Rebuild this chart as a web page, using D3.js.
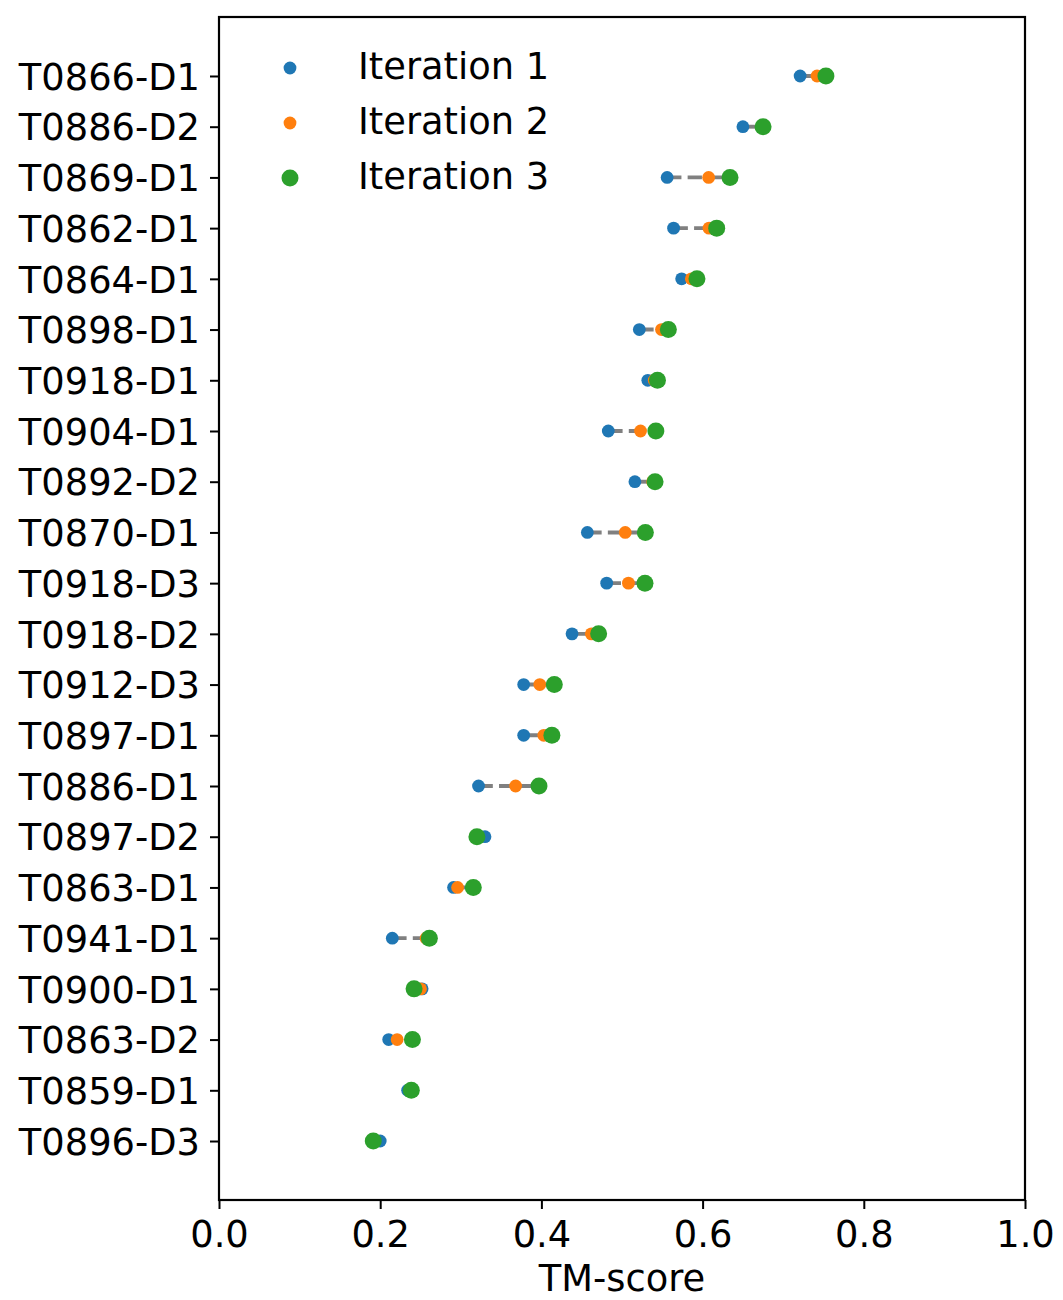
<!DOCTYPE html>
<html>
<head>
<meta charset="utf-8">
<script src="https://cdn.jsdelivr.net/npm/d3@7"></script>
<style>
  body { margin: 0; background: #fff; }
  svg { display: block; }
  text { font-family: "DejaVu Sans", sans-serif; fill: #000; }
</style>
</head>
<body>
<script>
const targets = ["T0866-D1","T0886-D2","T0869-D1","T0862-D1","T0864-D1","T0898-D1","T0918-D1","T0904-D1","T0892-D2","T0870-D1","T0918-D3","T0918-D2","T0912-D3","T0897-D1","T0886-D1","T0897-D2","T0863-D1","T0941-D1","T0900-D1","T0863-D2","T0859-D1","T0896-D3"];
const iteration1 = [0.721,0.650,0.556,0.564,0.574,0.5215,0.532,0.483,0.516,0.457,0.481,0.438,0.378,0.378,0.322,0.330,0.291,0.215,0.252,0.2105,0.234,0.200];
const iteration2 = [0.742,0.674,0.6075,0.608,0.586,0.549,0.540,0.523,0.538,0.504,0.508,0.462,0.398,0.403,0.368,0.318,0.296,0.257,0.250,0.221,0.237,0.193];
const iteration3 = [0.753,0.675,0.634,0.6175,0.593,0.5575,0.544,0.542,0.541,0.529,0.5285,0.471,0.416,0.413,0.397,0.320,0.3155,0.261,0.242,0.240,0.2386,0.1914];
const seriesNames = ["Iteration 1","Iteration 2","Iteration 3"];
const xTicks = [0.0,0.2,0.4,0.6,0.8,1.0];

(function () {
const W = 1063, H = 1300;
const pL = 219, pR = 1025, pT = 17, pB = 1200;
const FS = 36.8;
const colors = ["#1f77b4","#ff7f0e","#2ca02c"];
const radii = [6.4, 6.4, 8.5];

const svg = d3.select("body").append("svg").attr("width", W).attr("height", H);

const x = d3.scaleLinear().domain([0, 1]).range([pL, pR]);
const y = d3.scalePoint().domain(targets).range([pT, pB]).padding(1.163);

// dashed connector lines
const rows = targets.map((t, i) => ({t, v: [iteration1[i], iteration2[i], iteration3[i]]}));
const line = d3.line().x(d => x(d.v)).y(d => y(d.t));
svg.append("g").selectAll("path").data(rows).join("path")
  .attr("d", r => line(r.v.map(v => ({v, t: r.t}))))
  .attr("fill", "none").attr("stroke", "#808080")
  .attr("stroke-width", 3.9).attr("stroke-dasharray", "14.3,6.2");

// points
const series = [iteration1, iteration2, iteration3];
series.forEach((s, k) => {
  svg.append("g").selectAll("circle").data(s).join("circle")
    .attr("cx", d => x(d)).attr("cy", (d, i) => y(targets[i]))
    .attr("r", radii[k]).attr("fill", colors[k]);
});

// axes
const xAxis = svg.append("g").attr("transform", `translate(0,${pB})`)
  .call(d3.axisBottom(x).tickValues(xTicks).tickFormat(d3.format(".1f")).tickSize(9).tickPadding(9));
const yAxis = svg.append("g").attr("transform", `translate(${pL},0)`)
  .call(d3.axisLeft(y).tickSize(9).tickPadding(10));
[xAxis, yAxis].forEach(a => {
  a.select(".domain").remove();
  a.selectAll(".tick line").attr("stroke", "#000").attr("stroke-width", 2);
  a.selectAll(".tick text").attr("font-size", FS).attr("font-family", "DejaVu Sans").attr("fill", "#000");
});
xAxis.selectAll(".tick text").attr("dy", "0.78em");
yAxis.selectAll(".tick text").attr("dy", "0.36em");

// frame
svg.append("rect").attr("x", pL).attr("y", pT)
  .attr("width", pR - pL).attr("height", pB - pT)
  .attr("fill", "none").attr("stroke", "#000").attr("stroke-width", 2.2);

// x label
svg.append("text").attr("x", (pL + pR) / 2).attr("y", 1291)
  .attr("text-anchor", "middle").attr("font-size", FS).text("TM-score");

// legend
const leg = svg.append("g");
seriesNames.forEach((n, k) => {
  const ly = 68 + k * 55;
  leg.append("circle").attr("cx", 290).attr("cy", ly).attr("r", radii[k]).attr("fill", colors[k]);
  leg.append("text").attr("x", 358).attr("y", ly - 2).attr("dy", "0.36em")
    .attr("font-size", FS).text(n);
});
})();
</script>
</body>
</html>
